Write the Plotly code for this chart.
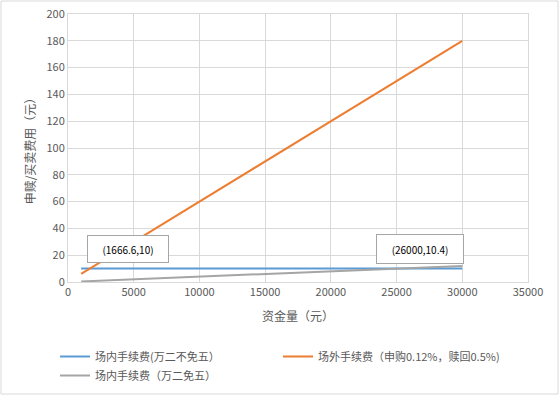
import plotly.graph_objects as go

amounts = [1000, 5000, 10000, 15000, 20000, 25000, 30000]
fee_in_no_exempt = [10, 10, 10, 10, 10, 10, 10]
fee_out = [6, 30, 60, 90, 120, 150, 180]
fee_in_exempt = [0.4, 2, 4, 6, 8, 10, 12]

series_names = ["场内手续费(万二不免五）", "场外手续费（申购0.12%，赎回0.5%)", "场内手续费（万二免五）"]
series_colors = ["#5B9BD5", "#ED7D31", "#A5A5A5"]

x_ticks = [0, 5000, 10000, 15000, 20000, 25000, 30000, 35000]
x_tick_labels = [str(v) for v in x_ticks]
y_ticks = [0, 20, 40, 60, 80, 100, 120, 140, 160, 180, 200]
y_tick_labels = [str(v) for v in y_ticks]

callouts = [("(1666.6,10)", 4540, 24.5, 78, 24), ("(26000,10.4)", 26760, 24.8, 84, 26)]

FONT = "Noto Sans CJK SC, Microsoft YaHei, sans-serif"
fig = go.Figure()
for ys, name, col in zip([fee_in_no_exempt, fee_out, fee_in_exempt], series_names, series_colors):
    fig.add_trace(go.Scatter(x=amounts, y=ys, mode="lines", name=name,
                             line=dict(color=col, width=2)))

for txt, cx, cy, w, h in callouts:
    fig.add_annotation(x=cx, y=cy, xref="x", yref="y", text=txt, showarrow=False,
                       width=w, height=h, bgcolor="white", bordercolor="#A6A6A6",
                       borderwidth=1, font=dict(size=10, color="#000000", family=FONT))

fig.update_layout(
    width=559, height=395,
    margin=dict(l=68, r=31, t=14, b=113),
    paper_bgcolor="white", plot_bgcolor="white",
    font=dict(family=FONT, size=11, color="#595959"),
    showlegend=True,
    legend=dict(orientation="h", xref="container", yref="container",
                x=55/559, xanchor="left", y=1 - 342/395, yanchor="top",
                entrywidth=178, font=dict(size=11, color="#595959"),
                tracegroupgap=0, itemwidth=30, bgcolor="rgba(0,0,0,0)"),
    xaxis=dict(range=[0, 35000], tickvals=x_ticks, ticktext=x_tick_labels, showgrid=True,
               gridcolor="#D9D9D9", showline=True, linecolor="#D9D9D9", mirror=True,
               zeroline=False, ticks="", automargin=False,
               title=dict(text="资金量（元）", font=dict(size=12, color="#595959"), standoff=14),
               tickfont=dict(size=11, color="#595959")),
    yaxis=dict(range=[0, 200], tickvals=y_ticks, ticktext=y_tick_labels, showgrid=True,
               gridcolor="#D9D9D9", showline=True, linecolor="#D9D9D9", mirror=True,
               zeroline=False, ticks="", automargin=False,
               title=dict(text="申赎/买卖费用（元）", font=dict(size=12, color="#595959"), standoff=8),
               tickfont=dict(size=11, color="#595959")),
    shapes=[dict(type="rect", xref="paper", yref="paper", x0=-67/460, x1=1+30/460,
                 y0=-112/268, y1=1+13/268, line=dict(color="#D9D9D9", width=1))],
)

fig.write_html("out.html", config={"displayModeBar": False},
               post_script="document.body.style.margin='0px';document.body.style.overflow='hidden';")
